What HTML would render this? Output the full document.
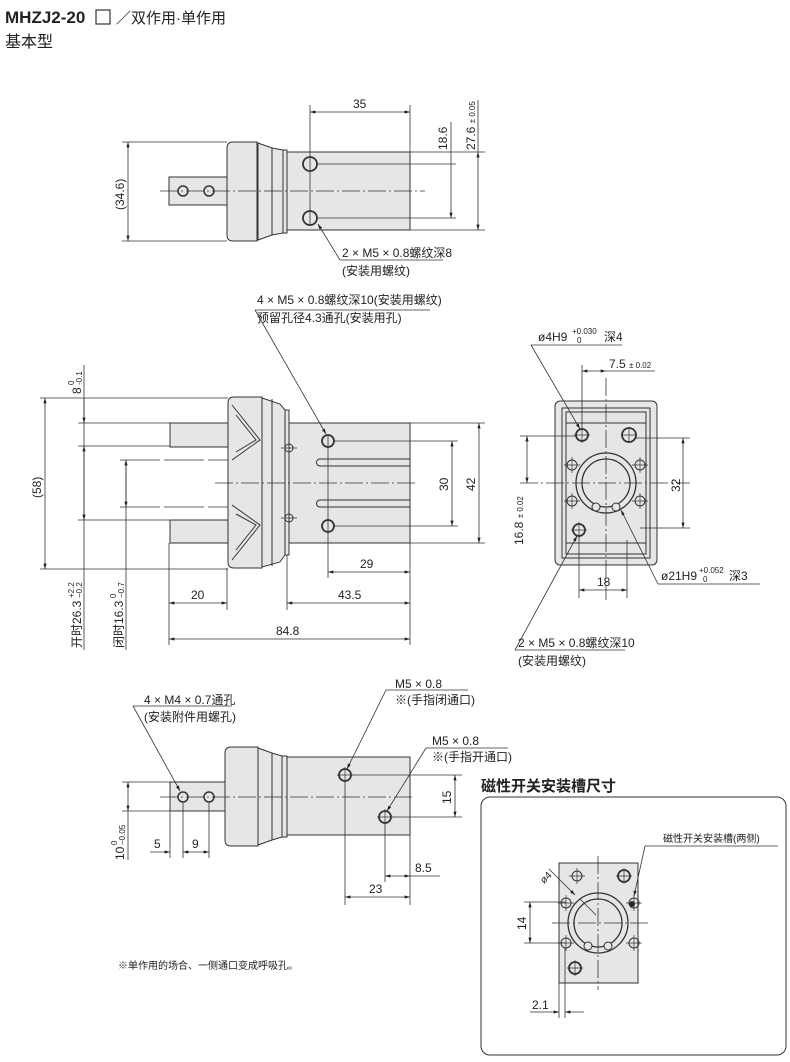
<!DOCTYPE html>
<html><head><meta charset="utf-8"><style>
html,body{margin:0;padding:0;background:#fff}
svg{display:block}
text{font-family:"Liberation Sans","Noto Sans CJK SC",sans-serif;fill:#222}
</style></head><body>
<svg width="790" height="1062" viewBox="0 0 790 1062" xmlns="http://www.w3.org/2000/svg">
<defs>
<marker id="a" viewBox="0 0 10 6" refX="10" refY="3" markerWidth="7" markerHeight="4" orient="auto-start-reverse"><path d="M0,0L10,3L0,6z" fill="#222"/></marker>
</defs>
<text x="5" y="23" font-size="17" font-weight="bold">MHZJ2-20</text>
<rect x="96" y="10" width="14" height="14" fill="none" stroke="#333" stroke-width="1.2"/>
<text x="116" y="23" font-size="15">／双作用·单作用</text>
<text x="5" y="47" font-size="16">基本型</text>

<g stroke="#333" stroke-width="1" fill="#e6e6e6">
<!-- VIEW 1 -->
<rect x="169" y="177" width="58" height="28"/>
<path d="M233,142 H257 V241 H233 Q227,241 227,235 V148 Q227,142 233,142z"/>
<path d="M258,143 L272,148 L283,150 V233 L272,235 L258,240z"/>
<rect x="283" y="150" width="4" height="83"/>
<rect x="287" y="152" width="123" height="78"/>
<line x1="272" y1="148" x2="272" y2="235"/>
<circle cx="183" cy="191" r="5" fill="none" stroke-width="1.5"/>
<circle cx="209" cy="191" r="5" fill="none" stroke-width="1.5"/>
<circle cx="310" cy="164" r="7" fill="none" stroke-width="1.8"/>
<circle cx="310" cy="218" r="7" fill="none" stroke-width="1.8"/>

<!-- VIEW 2 -->
<rect x="170" y="423" width="58" height="24"/>
<rect x="170" y="520" width="58" height="23"/>
<path d="M234,397 H262 V568 H234 Q228,568 228,562 V403 Q228,397 234,397z"/>
<path d="M262,398 L280,404 L285,410 V555 L280,562 L262,567z"/>
<rect x="285" y="410" width="4" height="145"/>
<rect x="289" y="423" width="121" height="120"/>
<line x1="272" y1="399" x2="272" y2="566"/>
<path d="M232,405 L260,440 L232,460 M236,415 L256,440 L236,452" fill="none"/>
<path d="M232,505 L260,525 L232,560 M236,514 L256,525 L236,550" fill="none"/>
<path d="M320,459 H410 V466 H320 A3.5,3.5 0 0 1 320,459z" fill="none"/>
<path d="M320,500 H410 V507 H320 A3.5,3.5 0 0 1 320,500z" fill="none"/>
<circle cx="328" cy="441" r="6" fill="none" stroke-width="1.8"/>
<circle cx="328" cy="526" r="6" fill="none" stroke-width="1.8"/>
<circle cx="289" cy="448" r="4" fill="none"/>
<circle cx="289" cy="518" r="4" fill="none"/>

<!-- VIEW 3 -->
<rect x="555" y="401" width="102" height="164" rx="5"/>
<rect x="562" y="408" width="88" height="150" fill="none"/>
<rect x="566" y="412" width="80" height="142" fill="none"/>
<line x1="566" y1="423" x2="646" y2="423"/>
<line x1="566" y1="543" x2="646" y2="543"/>
<circle cx="606" cy="483" r="30" fill="none" stroke-width="1.3"/>
<circle cx="606" cy="483" r="24" fill="#e6e6e6" stroke-width="1.3"/>
<circle cx="596" cy="507" r="4" fill="#e6e6e6"/>
<circle cx="616" cy="507" r="4" fill="#e6e6e6"/>
<circle cx="582" cy="435" r="6" fill="none" stroke-width="1.8"/>
<circle cx="629" cy="435" r="7" fill="none" stroke-width="1.8"/>
<circle cx="572" cy="465" r="5" fill="none"/>
<circle cx="640" cy="465" r="5" fill="none"/>
<circle cx="572" cy="501" r="5" fill="none"/>
<circle cx="640" cy="501" r="5" fill="none"/>
<circle cx="579" cy="530" r="6" fill="none" stroke-width="1.8"/>

<!-- VIEW 4 -->
<rect x="170" y="782" width="57" height="29"/>
<path d="M231,747 H258 V846 H231 Q225,846 225,840 V753 Q225,747 231,747z"/>
<path d="M258,748 L272,753 L282,756 V837 L272,840 L258,845z"/>
<rect x="282" y="756" width="5" height="81"/>
<rect x="287" y="757" width="123" height="78"/>
<line x1="272" y1="753" x2="272" y2="840"/>
<circle cx="183" cy="797" r="5" fill="none" stroke-width="1.5"/>
<circle cx="209" cy="797" r="5" fill="none" stroke-width="1.5"/>
<circle cx="345" cy="775" r="6" fill="none" stroke-width="1.8"/>
<circle cx="385" cy="817" r="6" fill="none" stroke-width="1.8"/>

<!-- INSET -->
<rect x="559" y="863" width="79" height="120"/>
<circle cx="598" cy="923" r="30" fill="none" stroke-width="1.3"/>
<circle cx="598" cy="923" r="24" fill="#e6e6e6" stroke-width="1.3"/>
<circle cx="588" cy="946" r="4"/>
<circle cx="608" cy="946" r="4"/>
<circle cx="577" cy="876" r="5" fill="none"/>
<circle cx="624" cy="876" r="6" fill="none" stroke-width="1.8"/>
<circle cx="566" cy="903" r="5" fill="none"/>
<circle cx="634" cy="903" r="5" fill="none"/>
<circle cx="566" cy="943" r="5" fill="none"/>
<circle cx="634" cy="943" r="5" fill="none"/>
<circle cx="575" cy="968" r="6" fill="none" stroke-width="1.8"/>
<circle cx="632" cy="904" r="2.5" fill="#222"/>
</g>

<!-- hole crosshairs -->
<g stroke="#333" stroke-width="0.7">
<path d="M281,448h16M289,440v16M281,518h16M289,510v16"/>
<path d="M564,465h16M572,457v16M632,465h16M640,457v16M564,501h16M572,493v16M632,501h16M640,493v16"/>
<path d="M574,435h16M582,427v16M621,435h16M629,427v16M571,530h16M579,522v16"/>
<path d="M569,876h16M577,868v16M616,876h16M624,868v16M558,903h16M566,895v16M626,903h16M634,895v16M558,943h16M566,935v16M626,943h16M634,935v16M567,968h16M575,960v16"/>
<path d="M337,775h16M345,767v16M377,817h16M385,809v16"/>
</g>

<!-- center lines -->
<g stroke="#333" stroke-width="0.8" stroke-dasharray="18,3,2,3" fill="none">
<line x1="160" y1="191" x2="425" y2="191"/>
<line x1="215" y1="483" x2="415" y2="483"/>
<line x1="520" y1="483" x2="690" y2="483"/>
<line x1="606" y1="378" x2="606" y2="600"/>
<line x1="160" y1="797" x2="415" y2="797"/>
<line x1="552" y1="923" x2="648" y2="923"/>
<line x1="598" y1="856" x2="598" y2="990"/>
</g>

<g stroke="#333" stroke-width="0.8" fill="none">
<line x1="310" y1="105" x2="310" y2="226"/><line x1="410" y1="105" x2="410" y2="152"/>
<line x1="310" y1="112" x2="410" y2="112" marker-start="url(#a)" marker-end="url(#a)"/>
<line x1="316" y1="164" x2="456" y2="164"/><line x1="316" y1="218" x2="456" y2="218"/>
<line x1="451" y1="122" x2="451" y2="218" marker-end="url(#a)"/>
<line x1="410" y1="152" x2="485" y2="152"/><line x1="410" y1="230" x2="485" y2="230"/>
<line x1="478" y1="152" x2="478" y2="230" marker-start="url(#a)" marker-end="url(#a)"/>
<line x1="478" y1="100" x2="478" y2="152"/>
<line x1="122" y1="142" x2="227" y2="142"/><line x1="122" y1="241" x2="227" y2="241"/>
<line x1="128" y1="142" x2="128" y2="241" marker-start="url(#a)" marker-end="url(#a)"/>
<line x1="340" y1="260" x2="318" y2="224" marker-end="url(#a)"/>
<line x1="340" y1="260" x2="443" y2="260"/>

<line x1="40" y1="398" x2="228" y2="398"/><line x1="40" y1="569" x2="228" y2="569"/>
<line x1="45" y1="398" x2="45" y2="569" marker-start="url(#a)" marker-end="url(#a)"/>
<line x1="78" y1="423" x2="170" y2="423"/><line x1="78" y1="446" x2="170" y2="446"/>
<line x1="78" y1="520" x2="170" y2="520"/><line x1="120" y1="460" x2="228" y2="460" stroke-dasharray="40,4"/>
<line x1="120" y1="507" x2="228" y2="507" stroke-dasharray="40,4"/>
<line x1="84" y1="365" x2="84" y2="650"/>
<line x1="84" y1="398" x2="84" y2="423" marker-end="url(#a)"/>
<line x1="84" y1="446" x2="84" y2="520" marker-start="url(#a)" marker-end="url(#a)"/>
<line x1="126" y1="460" x2="126" y2="650"/>
<line x1="126" y1="460" x2="126" y2="507" marker-start="url(#a)" marker-end="url(#a)"/>
<line x1="334" y1="441" x2="458" y2="441"/><line x1="334" y1="526" x2="458" y2="526"/>
<line x1="452" y1="441" x2="452" y2="526" marker-start="url(#a)" marker-end="url(#a)"/>
<line x1="410" y1="423" x2="485" y2="423"/><line x1="410" y1="543" x2="485" y2="543"/>
<line x1="479" y1="423" x2="479" y2="543" marker-start="url(#a)" marker-end="url(#a)"/>
<line x1="328" y1="435" x2="328" y2="578"/>
<line x1="410" y1="543" x2="410" y2="645"/>
<line x1="328" y1="572" x2="410" y2="572" marker-start="url(#a)" marker-end="url(#a)"/>
<line x1="287" y1="555" x2="287" y2="610"/>
<line x1="287" y1="603" x2="410" y2="603" marker-start="url(#a)" marker-end="url(#a)"/>
<line x1="169" y1="543" x2="169" y2="645"/><line x1="227" y1="568" x2="227" y2="610"/>
<line x1="169" y1="603" x2="227" y2="603" marker-start="url(#a)" marker-end="url(#a)"/>
<line x1="169" y1="639" x2="410" y2="639" marker-start="url(#a)" marker-end="url(#a)"/>
<line x1="255" y1="310" x2="326" y2="434" marker-end="url(#a)"/>
<line x1="255" y1="310" x2="430" y2="310"/>

<line x1="531" y1="345" x2="580" y2="429" marker-end="url(#a)"/>
<line x1="531" y1="345" x2="622" y2="345"/>
<line x1="582" y1="365" x2="582" y2="428"/>
<line x1="582" y1="371" x2="606" y2="371" marker-start="url(#a)" marker-end="url(#a)"/>
<line x1="606" y1="371" x2="655" y2="371"/>
<line x1="636" y1="438" x2="690" y2="438"/><line x1="640" y1="528" x2="690" y2="528"/>
<line x1="683" y1="438" x2="683" y2="528" marker-start="url(#a)" marker-end="url(#a)"/>
<line x1="520" y1="436" x2="576" y2="436"/>
<line x1="527" y1="436" x2="527" y2="483" marker-start="url(#a)" marker-end="url(#a)"/>
<line x1="579" y1="536" x2="579" y2="598"/><line x1="627" y1="540" x2="627" y2="598"/>
<line x1="579" y1="590" x2="627" y2="590" marker-start="url(#a)" marker-end="url(#a)"/>
<line x1="658" y1="584" x2="621" y2="510" marker-end="url(#a)"/>
<line x1="658" y1="584" x2="760" y2="584"/>
<line x1="515" y1="650" x2="577" y2="536" marker-end="url(#a)"/>
<line x1="515" y1="650" x2="625" y2="650"/>

<line x1="133" y1="706" x2="180" y2="791" marker-end="url(#a)"/>
<line x1="133" y1="706" x2="232" y2="706"/>
<line x1="386" y1="690" x2="347" y2="769" marker-end="url(#a)"/>
<line x1="386" y1="690" x2="468" y2="690"/>
<line x1="426" y1="748" x2="387" y2="811" marker-end="url(#a)"/>
<line x1="426" y1="748" x2="508" y2="748"/>
<line x1="351" y1="775" x2="462" y2="775"/><line x1="391" y1="817" x2="462" y2="817"/>
<line x1="455" y1="775" x2="455" y2="817" marker-start="url(#a)" marker-end="url(#a)"/>
<line x1="122" y1="782" x2="170" y2="782"/><line x1="122" y1="811" x2="170" y2="811"/>
<line x1="128" y1="782" x2="128" y2="811" marker-start="url(#a)" marker-end="url(#a)"/>
<line x1="128" y1="811" x2="128" y2="860"/>
<line x1="170" y1="811" x2="170" y2="858"/><line x1="183" y1="803" x2="183" y2="858"/><line x1="209" y1="803" x2="209" y2="858"/>
<line x1="150" y1="852" x2="170" y2="852" marker-end="url(#a)"/>
<line x1="183" y1="852" x2="209" y2="852" marker-start="url(#a)" marker-end="url(#a)"/>
<line x1="345" y1="781" x2="345" y2="905"/><line x1="385" y1="823" x2="385" y2="882"/>
<line x1="410" y1="835" x2="410" y2="905"/>
<line x1="385" y1="876" x2="410" y2="876" marker-start="url(#a)" marker-end="url(#a)"/>
<line x1="410" y1="876" x2="440" y2="876"/>
<line x1="345" y1="897" x2="410" y2="897" marker-start="url(#a)" marker-end="url(#a)"/>

<rect x="481" y="797" width="305" height="258" rx="9" stroke-width="1"/>
<line x1="549" y1="869" x2="575" y2="895" marker-end="url(#a)"/>
<line x1="580" y1="899" x2="596" y2="915"/>
<line x1="645" y1="846" x2="634" y2="896" marker-end="url(#a)"/>
<line x1="645" y1="846" x2="778" y2="846"/>
<line x1="524" y1="902" x2="566" y2="902"/><line x1="524" y1="943" x2="566" y2="943"/>
<line x1="530" y1="902" x2="530" y2="943" marker-start="url(#a)" marker-end="url(#a)"/>
<line x1="559" y1="983" x2="559" y2="1018"/><line x1="565" y1="948" x2="565" y2="1018"/>
<line x1="530" y1="1012" x2="559" y2="1012" marker-end="url(#a)"/>
<line x1="584" y1="1012" x2="565" y2="1012" marker-end="url(#a)"/>
</g>

<g font-size="12">
<text x="353" y="108">35</text>
<text transform="translate(447,150) rotate(-90)">18.6</text>
<text transform="translate(475,150) rotate(-90)">27.6 <tspan font-size="8">± 0.05</tspan></text>
<text transform="translate(124,210) rotate(-90)">(34.6)</text>
<text x="342" y="257">2 × M5 × 0.8螺纹深8</text>
<text x="342" y="275">(安装用螺纹)</text>
<text x="257" y="304">4 × M5 × 0.8螺纹深10(安装用螺纹)</text>
<text x="257" y="322">预留孔径4.3通孔(安装用孔)</text>
<text transform="translate(41,498) rotate(-90)">(58)</text>
<g transform="translate(81,394) rotate(-90)"><text x="0" y="0">8</text><text x="9" y="-7" font-size="8">0</text><text x="9" y="1" font-size="8">-0.1</text></g>
<g transform="translate(81,648) rotate(-90)"><text x="0" y="0">开时26.3</text><text x="50" y="-7" font-size="8">+2.2</text><text x="50" y="1" font-size="8">−0.2</text></g>
<g transform="translate(123,648) rotate(-90)"><text x="0" y="0">闭时16.3</text><text x="50" y="-7" font-size="8">0</text><text x="50" y="1" font-size="8">−0.7</text></g>
<text transform="translate(448,491) rotate(-90)">30</text>
<text transform="translate(475,491) rotate(-90)">42</text>
<text x="360" y="568">29</text>
<text x="338" y="599">43.5</text>
<text x="191" y="599">20</text>
<text x="276" y="635">84.8</text>
<text x="538" y="341">ø4H9</text><text x="572" y="334" font-size="8">+0.030</text><text x="577" y="343" font-size="8">0</text><text x="604" y="341">深4</text>
<text x="609" y="368">7.5 <tspan font-size="8">± 0.02</tspan></text>
<text transform="translate(680,492) rotate(-90)">32</text>
<text transform="translate(523,545) rotate(-90)">16.8 <tspan font-size="8">± 0.02</tspan></text>
<text x="597" y="586">18</text>
<text x="661" y="580">ø21H9</text><text x="699" y="573" font-size="8">+0.052</text><text x="703" y="582" font-size="8">0</text><text x="729" y="580">深3</text>
<text x="518" y="647">2 × M5 × 0.8螺纹深10</text>
<text x="518" y="665">(安装用螺纹)</text>
<text x="144" y="704">4 × M4 × 0.7通孔</text>
<text x="144" y="721">(安装附件用螺孔)</text>
<text x="395" y="688">M5 × 0.8</text>
<text x="395" y="704">※(手指闭通口)</text>
<text x="432" y="745">M5 × 0.8</text>
<text x="432" y="761">※(手指开通口)</text>
<text transform="translate(451,804) rotate(-90)">15</text>
<g transform="translate(124,860) rotate(-90)"><text x="0" y="0">10</text><text x="15" y="-7" font-size="8">0</text><text x="15" y="1" font-size="8">−0.05</text></g>
<text x="154" y="848">5</text>
<text x="192" y="848">9</text>
<text x="415" y="872">8.5</text>
<text x="369" y="893">23</text>
<text x="118" y="969" font-size="10">※单作用的场合、一侧通口变成呼吸孔。</text>
<text x="663" y="842" font-size="10">磁性开关安装槽(两侧)</text>
<text transform="translate(544,884) rotate(-45)" font-size="10">ø4</text>
<text transform="translate(526,930) rotate(-90)">14</text>
<text x="532" y="1009">2.1</text>
</g>
<text x="481" y="791" font-size="15" font-weight="bold">磁性开关安装槽尺寸</text>
</svg>
</body></html>
